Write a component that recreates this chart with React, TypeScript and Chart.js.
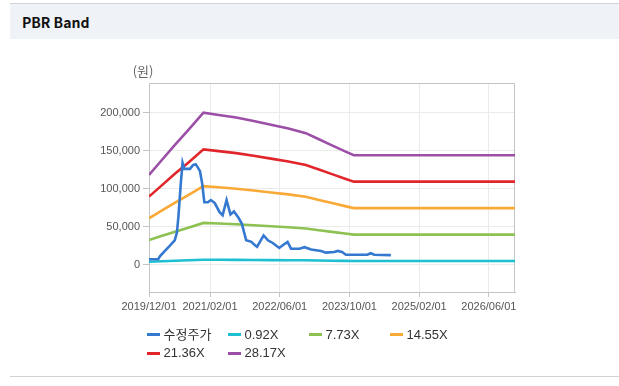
import React, { useEffect, useRef } from 'react';
import { Chart, registerables } from 'chart.js';

Chart.register(...registerables);

// x axis: months counted from 2019/12/01
const xMin = 0;
const xMax = 84;
const xTickMonths = [0, 14, 30, 46, 62, 78];
const xTickLabels = ['2019/12/01', '2021/02/01', '2022/06/01', '2023/10/01', '2025/02/01', '2026/06/01'];

const yMin = -36000;
const yMax = 239000;
const yTickValues = [0, 50000, 100000, 150000, 200000];

// PBR band lines (months from 2019/12)
const bandMonths = [0, 3, 6, 9, 12.5, 16, 20, 24, 28, 32, 36, 39, 42, 45, 47, 84];
const band092 = [3900, 4500, 5200, 5800, 6500, 6400, 6300, 6200, 6000, 5800, 5700, 5400, 5100, 4900, 4700, 4700];
const band773 = [32400, 37900, 43400, 48600, 54900, 54100, 53100, 51900, 50500, 49100, 47500, 45300, 43100, 40900, 39500, 39500];
const band1455 = [60900, 71300, 81600, 91400, 103300, 101800, 99900, 97600, 95000, 92500, 89400, 85200, 81100, 77000, 74400, 74400];
const band2136 = [89500, 104600, 119800, 134200, 151700, 149400, 146700, 143300, 139500, 135700, 131200, 125100, 119100, 113000, 109200, 109200];
const band2817 = [118000, 138000, 158000, 177000, 200000, 197000, 193500, 189000, 184000, 179000, 173000, 165000, 157000, 149000, 144000, 144000];

// adjusted price (수정주가)
const priceMonths = [0, 2.1, 2.5, 3.7, 4.8, 5.9, 6.4, 6.75, 7.3, 7.7, 8.1, 9.4, 10.1, 10.7, 11.2, 11.7, 12.2, 12.7, 13.5, 14.2, 15.1, 16.2, 16.9, 17.8, 18.7, 19.5, 20.5, 21.3, 22.3, 23.5, 24.2, 24.8, 26.3, 27.3, 28.4, 29.9, 30.7, 31.8, 32.6, 34.5, 35.7, 37.2, 39.5, 40.6, 42.5, 43.3, 44.3, 45.2, 50.1, 50.9, 51.7, 55.5];
const priceValues = [7000, 7000, 11000, 18500, 25000, 32000, 42000, 63000, 107000, 134000, 126000, 126000, 131000, 132000, 128000, 123000, 107000, 82000, 82000, 85000, 81000, 69000, 65000, 85000, 66000, 70000, 62000, 54000, 32000, 30000, 26000, 23500, 38500, 32000, 28500, 22000, 25500, 30000, 21000, 21000, 23000, 19800, 18000, 15800, 16600, 18000, 16600, 13000, 13000, 15000, 13000, 12500];

const seriesNames = ['수정주가', '0.92X', '7.73X', '14.55X', '21.36X', '28.17X'];
const seriesColors = ['#3478d0', '#1dbfd0', '#8dc152', '#f9a936', '#e0262b', '#9c4fa6'];

const toPoints = (xs: number[], ys: number[]) => xs.map((x, i) => ({ x, y: ys[i] }));

const framePlugin = {
  id: 'frameAndUnit',
  beforeDatasetsDraw(chart: any) {
    const { ctx, chartArea: a } = chart;
    ctx.save();
    ctx.strokeStyle = '#c4c4c4';
    ctx.lineWidth = 1;
    ctx.strokeRect(Math.round(a.left) + 0.5, Math.round(a.top) + 0.5, Math.round(a.right - a.left) - 1, Math.round(a.bottom - a.top));
    ctx.restore();
  },
  afterDraw(chart: any) {
    const { ctx, chartArea: a } = chart;
    ctx.save();
    ctx.fillStyle = '#666';
    ctx.font = '13px "Noto Sans CJK KR", "Liberation Sans", sans-serif';
    ctx.textAlign = 'center';
    ctx.textBaseline = 'middle';
    ctx.fillText('(원)', a.left - 6, a.top - 12);
    ctx.restore();
  },
};

export default function App() {
  const ref = useRef<HTMLCanvasElement | null>(null);

  useEffect(() => {
    if (!ref.current) return;
    const lineSeries = [
      toPoints(priceMonths, priceValues),
      toPoints(bandMonths, band092),
      toPoints(bandMonths, band773),
      toPoints(bandMonths, band1455),
      toPoints(bandMonths, band2136),
      toPoints(bandMonths, band2817),
    ];
    const chart = new Chart(ref.current, {
      type: 'line',
      data: {
        datasets: lineSeries.map((d, i) => ({
          label: seriesNames[i],
          data: d,
          borderColor: seriesColors[i],
          backgroundColor: seriesColors[i],
          borderWidth: 2.6,
          pointRadius: 0,
          tension: 0,
          fill: false,
        })),
      },
      options: {
        animation: false,
        responsive: false,
        events: [],
        layout: { padding: { top: 83, right: 104, left: 0, bottom: 0 } },
        plugins: { legend: { display: false }, tooltip: { enabled: false } },
        scales: {
          x: {
            type: 'linear',
            min: xMin,
            max: xMax,
            afterFit: (s: any) => { s.height = 94; },
            afterBuildTicks: (s: any) => { s.ticks = xTickMonths.map((v) => ({ value: v })); },
            grid: { color: '#ebebeb', tickColor: '#c4c4c4', tickLength: 5 },
            border: { color: '#c4c4c4' },
            ticks: {
              autoSkip: false,
              maxRotation: 0,
              padding: 3,
              color: '#555',
              font: { family: '"Liberation Sans", Arial, sans-serif', size: 11 },
              callback: (v: any) => {
                const i = xTickMonths.indexOf(Number(v));
                return i >= 0 ? xTickLabels[i] : '';
              },
            },
          },
          y: {
            type: 'linear',
            min: yMin,
            max: yMax,
            afterFit: (s: any) => { s.width = 149; },
            afterBuildTicks: (s: any) => { s.ticks = yTickValues.map((v) => ({ value: v })); },
            grid: { color: '#ebebeb', tickColor: '#c4c4c4', tickLength: 6 },
            border: { color: '#c4c4c4' },
            ticks: {
              padding: 3,
              color: '#555',
              font: { family: '"Liberation Sans", Arial, sans-serif', size: 11 },
              callback: (v: any) => Number(v).toLocaleString('en-US'),
            },
          },
        },
      },
      plugins: [framePlugin],
    });
    return () => chart.destroy();
  }, []);

  const legendFont = '"Liberation Sans", "Noto Sans CJK KR", Arial, sans-serif';

  return (
    <div style={{ position: 'absolute', left: 0, top: 0, width: 619, height: 386, background: '#fff', overflow: 'hidden' }}>
      <div style={{ position: 'absolute', left: 10, top: 3, width: 609, height: 35, background: '#eff2f7', borderTop: '1px solid #cfd2d6' }} />
      <div style={{ position: 'absolute', left: 22, top: 12, height: 20, lineHeight: '20px', fontSize: 14, fontWeight: 700, color: '#111', fontFamily: '"Noto Sans CJK KR", "Liberation Sans", sans-serif' }}>
        PBR Band
      </div>
      <div style={{ position: 'absolute', left: 10, top: 376, width: 609, height: 1, background: '#d2d2d2' }} />
      <canvas ref={ref} width={619} height={386} style={{ position: 'absolute', left: 0, top: 0, width: 619, height: 386 }} />
      {seriesNames.map((name, i) => {
        const col = i % 4;
        const row = Math.floor(i / 4);
        const left = 147 + col * 81;
        const cy = 334.5 + row * 18.5;
        return (
          <React.Fragment key={name}>
            <div style={{ position: 'absolute', left, top: cy - 1.5, width: 13, height: 3, background: seriesColors[i] }} />
            <div style={{ position: 'absolute', left: left + 16.5, top: cy - 9, height: 18, lineHeight: '18px', fontSize: 13, color: '#333', fontFamily: legendFont, whiteSpace: 'nowrap' }}>
              {name}
            </div>
          </React.Fragment>
        );
      })}
    </div>
  );
}
